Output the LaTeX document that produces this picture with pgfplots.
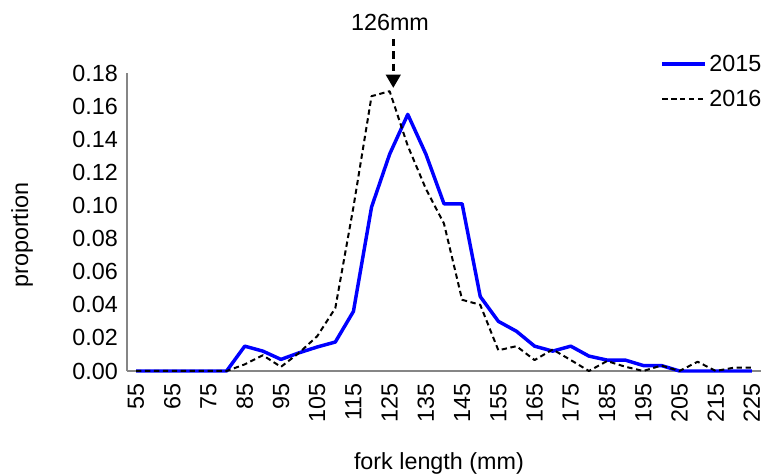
\documentclass[border=0pt]{standalone}
\usepackage{fontspec}
\setmainfont{Liberation Sans}
\usepackage{pgfplots}
\pgfplotsset{compat=1.18}
\usetikzlibrary{arrows.meta}
\definecolor{axgray}{RGB}{134,134,134}

\pgfplotstableread{
x y
55 0
60 0
65 0
70 0
75 0
80 0
85 0.015
90 0.012
95 0.007
100 0.011
105 0.0145
110 0.0175
115 0.036
120 0.099
125 0.131
130 0.155
135 0.131
140 0.101
145 0.101
150 0.045
155 0.030
160 0.024
165 0.015
170 0.012
175 0.015
180 0.009
185 0.0066
190 0.0066
195 0.0033
200 0.0033
205 0
210 0
215 0
220 0
225 0
}\dataA

\pgfplotstableread{
x y
55 0
60 0
65 0
70 0
75 0
80 0
85 0.004
90 0.0095
95 0.0025
100 0.011
105 0.021
110 0.038
115 0.099
120 0.166
125 0.169
130 0.136
135 0.110
140 0.089
145 0.043
150 0.040
155 0.0125
160 0.015
165 0.0066
170 0.013
175 0.0066
180 0
185 0.006
190 0.0026
195 0
200 0.0033
205 0
210 0.0056
215 0
220 0.002
225 0.002
}\dataB

\begin{document}
\begin{tikzpicture}
\begin{axis}[
  name=ax,
  scale only axis, width=475.5pt, height=223.5pt,
  xmin=52.5, xmax=227.5, ymin=0, ymax=0.18,
  xtick={55,65,...,225},
  ytick={0,0.02,0.04,0.06,0.08,0.10,0.12,0.14,0.16,0.18},
  scaled y ticks=false,
  /pgf/number format/assume math mode=true,
  yticklabel style={/pgf/number format/.cd, fixed, fixed zerofill, precision=2},
  axis x line*=bottom, axis y line*=left,
  axis line style={draw=axgray, line width=1pt, -},
  major tick length=0pt,
  tick label style={font=\fontsize{17.5}{21}\selectfont, inner sep=0pt},
  label style={font=\fontsize{17.5}{21}\selectfont},
  xticklabel style={rotate=90, anchor=east},
  xticklabel shift=9pt, yticklabel shift=6.75pt,
  xlabel={fork length (mm)}, ylabel={proportion},
  xlabel style={at={(axis description cs:0.492,-0.309)}, anchor=center},
  ylabel style={at={(axis description cs:-0.1656,0.456)}, anchor=center},
  clip=false,
  legend style={draw=none, fill=none, font=\fontsize{17.5}{21}\selectfont,
    at={(rel axis cs:1.005,1.07)}, anchor=north east, row sep=8.5pt, inner sep=0pt},
  legend cell align=left,
  legend image code/.code={\draw[#1] (0pt,0pt) -- (32pt,0pt);},
]
\addplot[draw={rgb,255:red,0;green,0;blue,255}, line width=2.6pt, line join=round] table[x=x,y=y] {\dataA};
\addlegendentry{2015}
\addplot[black, line width=1.5pt, line join=round, dash pattern=on 4pt off 2.7pt] table[x=x,y=y] {\dataB};
\addlegendentry{2016}
\node[font=\fontsize{17.5}{21}\selectfont] at (axis cs:125.1,0.2108) {126mm};
\draw[black, line width=2pt, dash pattern=on 5.5pt off 3.75pt, -{Triangle[width=11pt,length=10pt]}] (axis cs:126,0.2005) -- (axis cs:126,0.171);
\end{axis}
\pgfresetboundingbox
\path[use as bounding box] ([shift={(-95.25pt,-78.75pt)}]ax.south west) rectangle ([shift={(6pt,54.75pt)}]ax.north east);
\end{tikzpicture}
\end{document}
